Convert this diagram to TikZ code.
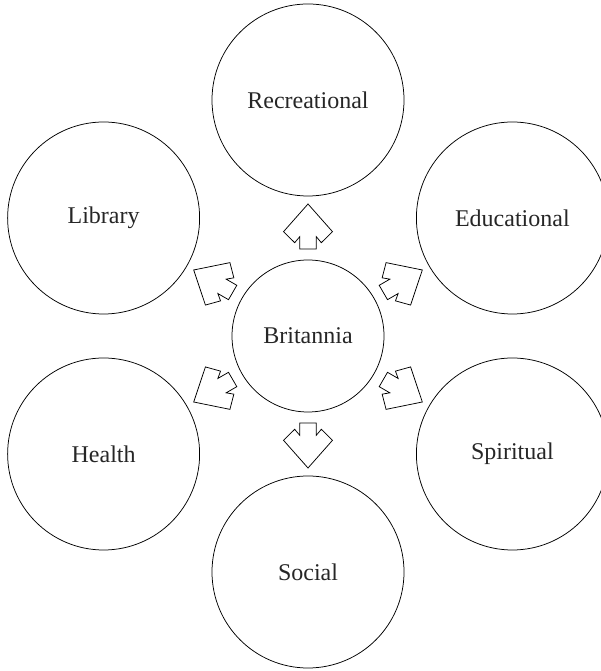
\documentclass[tikz,border=0pt]{standalone}
\usepackage{fontspec}
\setmainfont{Liberation Serif}
\begin{document}
\begin{tikzpicture}[x=1pt,y=1pt,
  bubble/.style={draw, circle, line width=0.75pt, inner sep=0pt, minimum size=192pt, font=\fontsize{24}{28}\selectfont, text=black!85},
  hub/.style={bubble, minimum size=152pt},
  blockarrow/.style={draw, line width=0.75pt, line join=miter}]
\useasboundingbox (0,0) rectangle (601,671);
\clip (0,0) rectangle (601,671);
\node[hub] (c) at (308,335) {Britannia};
\foreach \a/\n/\t in {90/rec/Recreational, 30/edu/Educational, -30/spi/Spiritual, -90/soc/Social, -150/hea/Health, 150/lib/Library} {
  \path (c.center) ++(\a:236) node[bubble] (\n) {\t};
  \draw[blockarrow, shift={(c.center)}, rotate=\a]
    (87,8.3) -- (99.3,8.3) -- (93.3,13.3) -- (104.3,24.5) -- (132,0)
    -- (104.3,-24.5) -- (93.3,-13.3) -- (99.3,-8.3) -- (87,-8.3) -- cycle;
}
\end{tikzpicture}
\end{document}
